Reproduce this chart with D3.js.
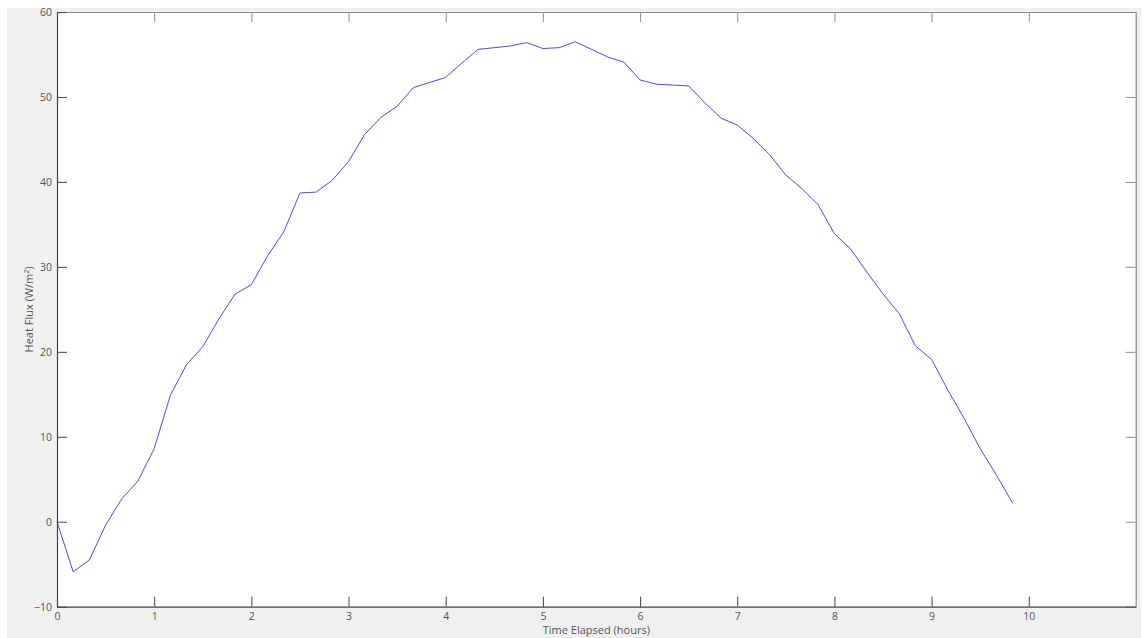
<!DOCTYPE html>
<html>
<head>
<meta charset="utf-8">
<script src="https://cdn.jsdelivr.net/npm/d3@7"></script>
<style>
  body { margin: 0; background: #fff; }
  svg { display: block; }
  .tick text { font-family: "Open Sans", "Noto Sans", sans-serif; font-size: 10.5px; fill: #555; }
</style>
</head>
<body>
<svg id="chart" width="1143" height="638"></svg>
<script>
// time elapsed (hours), one reading every 10 minutes
const hours = [
  0, 0.167, 0.333, 0.5, 0.667, 0.833, 1, 1.167, 1.333, 1.5,
  1.667, 1.833, 2, 2.167, 2.333, 2.5, 2.667, 2.833, 3, 3.167,
  3.333, 3.5, 3.667, 3.833, 4, 4.167, 4.333, 4.5, 4.667, 4.833,
  5, 5.167, 5.333, 5.5, 5.667, 5.833, 6, 6.167, 6.333, 6.5,
  6.667, 6.833, 7, 7.167, 7.333, 7.5, 7.667, 7.833, 8, 8.167,
  8.333, 8.5, 8.667, 8.833, 9, 9.167, 9.333, 9.5, 9.667, 9.833
];

// heat flux (W/m^2)
const heatFlux = [
  0, -5.9, -4.5, -0.4, 2.7, 4.8, 8.6, 14.9, 18.5, 20.6,
  23.9, 26.8, 27.9, 31.3, 34.1, 38.7, 38.8, 40.2, 42.4, 45.6,
  47.6, 48.9, 51.1, 51.7, 52.3, 54.0, 55.6, 55.8, 56.0, 56.4,
  55.7, 55.8, 56.5, 55.6, 54.7, 54.1, 52.0, 51.5, 51.4, 51.3,
  49.3, 47.5, 46.7, 45.1, 43.2, 40.8, 39.2, 37.3, 33.9, 32.1,
  29.4, 26.8, 24.5, 20.7, 19.1, 15.5, 12.2, 8.6, 5.5, 2.2
];

const xTicks = [0, 1, 2, 3, 4, 5, 6, 7, 8, 9, 10];
const yTicks = [-10, 0, 10, 20, 30, 40, 50, 60];
const xMax = 11.1;

const data = hours.map((h, i) => ({ h, v: heatFlux[i] }));

const box = { left: 57, top: 12, right: 1135.7, bottom: 606.7 };

const svg = d3.select("#chart");

// figure background
svg.append("rect")
  .attr("x", 7).attr("y", 8)
  .attr("width", 1134).attr("height", 630)
  .attr("fill", "#f0f0f0");

svg.append("rect")
  .attr("x", box.left).attr("y", box.top)
  .attr("width", box.right - box.left).attr("height", box.bottom - box.top)
  .attr("fill", "#fff");

const x = d3.scaleLinear().domain([0, xMax]).range([box.left, box.right]);
const y = d3.scaleLinear().domain([-10, 60]).range([box.bottom, box.top]);

// line
const line = d3.line().x(d => x(d.h)).y(d => y(d.v));

svg.append("path")
  .datum(data)
  .attr("d", line)
  .attr("fill", "none")
  .attr("stroke", "#4a4aea")
  .attr("stroke-width", 1)
  .attr("stroke-linejoin", "round");

// axes (ticks point inward, like matlab)
const styleAxis = (g, color) => {
  g.select(".domain").attr("stroke", color).attr("stroke-width", 1.2);
  g.selectAll(".tick line").attr("stroke", color).attr("stroke-width", 1);
};

svg.append("g")
  .attr("transform", `translate(0,${box.top})`)
  .call(d3.axisTop(x).tickValues(xTicks).tickSizeInner(-10).tickSizeOuter(0).tickFormat(""))
  .call(g => styleAxis(g, "#8c8c8c"));

svg.append("g")
  .attr("transform", `translate(${box.right},0)`)
  .call(d3.axisRight(y).tickValues(yTicks).tickSizeInner(-10).tickSizeOuter(0).tickFormat(""))
  .call(g => styleAxis(g, "#8c8c8c"));

svg.append("g")
  .attr("transform", `translate(0,${box.bottom})`)
  .call(d3.axisBottom(x).tickValues(xTicks).tickSizeInner(-10).tickSizeOuter(0).tickPadding(6))
  .call(g => styleAxis(g, "#444"));

svg.append("g")
  .attr("transform", `translate(${box.left},0)`)
  .call(d3.axisLeft(y).tickValues(yTicks).tickSizeInner(-10).tickSizeOuter(0).tickPadding(5))
  .call(g => styleAxis(g, "#444"));

// axis labels
const labelFont = "\"Open Sans\", \"Noto Sans\", sans-serif";

svg.append("text")
  .attr("x", (box.left + box.right) / 2)
  .attr("y", 634)
  .attr("text-anchor", "middle")
  .attr("font-family", labelFont)
  .attr("font-size", 11)
  .attr("fill", "#555")
  .text("Time Elapsed (hours)");

const yLabel = svg.append("text")
  .attr("transform", `translate(33,${(box.top + box.bottom) / 2}) rotate(-90)`)
  .attr("text-anchor", "middle")
  .attr("font-family", labelFont)
  .attr("font-size", 11)
  .attr("fill", "#555");

yLabel.append("tspan").text("Heat Flux (W/m");
yLabel.append("tspan").attr("font-size", 7.5).attr("dy", -4).text("2");
yLabel.append("tspan").attr("dy", 4).text(")");
</script>
</body>
</html>
